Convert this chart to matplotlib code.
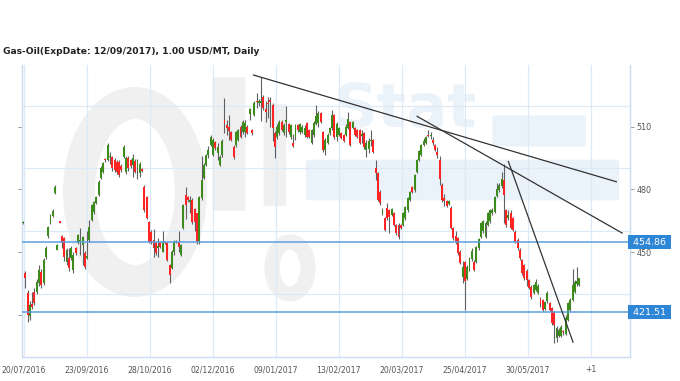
import matplotlib
matplotlib.use('Agg')
import matplotlib.pyplot as plt
from matplotlib.patches import Ellipse, FancyBboxPatch

opens = [464.0, 440.2, 430.7, 419.5, 425.5, 431.2, 431.2, 435.5, 440.7, 435.5,
         447.9, 458.0, 464.0, 467.4, 478.3, 451.2, 464.8, 457.9, 456.9, 445.5,
         447.3, 447.3, 441.7, 452.0, 454.5, 455.0, 453.6, 449.8, 447.5, 456.0,
         465.5, 469.3, 473.5, 477.4, 485.5, 488.4, 494.5, 494.0,
         495.5, 495.5, 494.0, 493.0, 493.0, 491.0, 495.5, 488.4, 495.0, 494.0,
         491.5, 493.5, 490.0, 488.0, 489.5, 481.2, 476.4, 464.5, 459.8, 456.0,
         454.5, 452.0, 455.0, 450.0, 455.0, 454.5, 444.0, 442.6, 450.0, 455.0,
         455.0, 448.8, 461.7,
         477.3, 476.5, 474.0, 475.0, 470.8, 468.7, 455.0, 476.0, 485.5, 491.6,
         496.5, 501.2, 496.4, 502.6, 497.4, 491.6, 496.5, 513.0, 510.7, 510.0,
         507.4, 500.3, 501.2, 503.6, 509.9, 507.4, 507.4, 509.9, 516.0, 508.3,
         515.5, 522.0, 521.0, 521.0, 524.0, 518.5, 521.0, 522.5, 520.3, 507.0,
         505.0, 507.0, 512.0, 507.0, 512.0, 511.0, 505.0, 502.0, 505.0, 510.5,
         507.4,
         507.4, 505.8, 511.7, 508.3, 502.0, 505.8, 511.0, 511.5, 516.4, 507.4,
         498.8, 502.0, 507.0, 509.3, 515.5, 505.0, 506.0, 507.0, 506.0, 506.0,
         509.5, 512.0, 509.5, 509.3, 508.3, 508.3, 505.5, 506.9, 499.0, 499.5,
         503.0, 503.6, 490.0, 487.9, 478.9, 468.5, 466.4, 471.2, 470.2, 468.0,
         468.7, 463.1, 463.1,
         463.0, 463.1, 466.4, 470.2, 475.0, 481.2, 479.8, 488.4, 494.0, 496.4,
         501.0, 502.1, 506.0, 505.5, 503.5, 501.2, 498.0, 494.0, 482.2, 476.0,
         474.5, 473.0, 471.2, 461.7, 458.0, 456.9, 450.2, 438.3, 445.5, 437.5,
         441.7, 447.0, 445.5, 445.5, 452.0, 457.4, 460.0, 457.4, 463.1, 465.0,
         469.0, 469.3, 477.0, 479.8, 481.5,
         484.5, 470.0, 466.4, 468.8, 466.4, 459.8, 456.0, 451.2, 446.4, 444.0,
         441.0, 436.9, 433.6, 430.7, 432.0, 430.7, 428.0, 427.4, 423.0, 427.0,
         425.9, 423.6, 421.5, 409.2, 410.0, 410.0, 412.6, 411.0, 417.9, 422.6,
         427.4, 431.2, 435.0, 434.5]
closes = [464.6, 437.8, 420.2, 424.9, 424.0, 426.0, 436.0, 441.7, 434.5, 446.4,
          452.0, 462.0, 467.8, 469.8, 481.2, 453.6, 464.2, 454.5, 447.9, 451.2,
          442.5, 452.0, 448.8, 449.8, 458.3, 456.0, 457.4, 443.1, 448.5, 462.0,
          472.6, 474.0, 476.4, 483.5, 490.2, 492.6, 494.1, 501.2,
          495.6, 490.0, 489.3, 488.4, 487.0, 489.3, 500.0, 495.0, 490.0, 491.0,
          495.0, 488.5, 493.5, 492.0, 489.0, 470.2, 466.4, 455.0, 455.0, 452.0,
          449.8, 453.0, 452.5, 455.0, 454.5, 446.4, 439.3, 450.2, 455.0, 455.5,
          452.5, 453.6, 472.6,
          472.6, 475.0, 475.0, 464.5, 464.5, 455.5, 476.4, 484.5, 491.6, 496.4,
          499.0, 505.0, 503.6, 499.7, 500.3, 495.5, 503.0, 511.5, 509.3, 508.0,
          503.6, 495.5, 507.4, 508.3, 505.0, 512.2, 511.5, 507.0, 518.5, 507.0,
          521.2, 521.5, 522.0, 522.0, 518.8, 517.0, 520.5, 521.5, 509.3, 500.0,
          510.0, 512.0, 508.5, 510.5, 513.0, 507.4, 510.5, 500.7, 510.5, 508.3,
          511.0,
          509.9, 509.5, 505.0, 505.0, 508.3, 511.7, 515.0, 516.5, 512.2, 498.8,
          503.6, 506.0, 509.5, 515.5, 505.0, 511.0, 509.5, 504.5, 503.0, 510.0,
          513.5, 501.0, 512.0, 506.0, 505.0, 502.1, 506.5, 500.3, 502.0, 503.0,
          503.6, 497.9, 487.9, 475.0, 473.6, 470.5, 460.7, 466.4, 467.0, 470.5,
          463.1, 459.3, 457.4,
          461.5, 468.7, 471.6, 476.0, 478.9, 478.9, 486.9, 494.1, 498.5, 501.2,
          503.0, 505.0, 505.5, 506.0, 502.0, 499.0, 496.4, 485.0, 475.0, 474.5,
          472.0, 474.5, 461.7, 457.0, 455.5, 449.8, 445.0, 443.0, 436.5, 443.0,
          447.0, 450.5, 441.7, 452.6, 456.5, 464.0, 465.0, 464.0, 468.8, 470.0,
          470.0, 476.4, 480.0, 482.2, 485.0,
          477.4, 463.0, 468.0, 461.7, 460.7, 455.0, 452.0, 447.4, 440.2, 437.8,
          437.0, 433.1, 428.8, 434.5, 436.0, 434.0, 425.5, 422.6, 426.5, 430.5,
          422.6, 416.4, 415.5, 414.0, 413.1, 414.5, 412.1, 419.0, 426.0, 427.5,
          434.5, 436.0, 436.5, 437.8]
highs = [465.0, 441.0, 432.0, 427.0, 431.0, 433.0, 437.5, 444.0, 442.0, 447.5,
         453.0, 462.5, 468.5, 470.5, 482.0, 454.0, 465.0, 458.5, 457.5, 452.0,
         452.0, 453.0, 450.0, 452.5, 459.0, 461.5, 458.0, 450.5, 460.0, 465.5,
         473.0, 474.5, 477.0, 484.5, 491.0, 493.0, 495.0, 502.3,
         498.0, 496.0, 495.0, 494.0, 494.0, 492.0, 501.0, 496.0, 496.0, 494.5,
         497.0, 494.5, 494.5, 493.0, 490.0, 482.0, 477.0, 465.0, 460.5, 461.0,
         455.0, 457.0, 455.5, 460.0, 455.0, 455.0, 444.5, 451.0, 456.0, 456.0,
         460.0, 454.0, 473.0,
         481.0, 477.0, 477.0, 476.0, 471.0, 469.0, 477.0, 496.0, 492.5, 497.0,
         500.5, 506.0, 504.5, 503.0, 502.0, 496.5, 504.0, 523.5, 513.0, 515.5,
         508.0, 501.0, 508.0, 509.0, 510.5, 513.0, 513.0, 510.5, 519.0, 509.0,
         522.0, 526.0, 523.0, 533.5, 525.0, 522.0, 524.0, 524.0, 521.0, 508.0,
         511.0, 513.0, 513.0, 511.5, 520.0, 511.5, 511.0, 506.5, 511.0, 511.0,
         511.5,
         510.5, 510.5, 512.0, 509.0, 509.0, 512.5, 520.3, 517.5, 517.0, 508.0,
         504.5, 507.0, 510.0, 518.0, 516.0, 512.0, 510.0, 507.5, 506.5, 511.0,
         517.0, 512.5, 512.5, 510.0, 509.0, 509.0, 508.5, 507.5, 503.5, 504.5,
         508.3, 504.0, 494.0, 488.5, 479.8, 471.0, 467.0, 473.5, 470.8, 471.0,
         469.5, 463.5, 464.0,
         463.5, 469.5, 472.0, 476.5, 479.5, 481.5, 487.5, 494.5, 499.0, 501.5,
         504.5, 505.5, 508.3, 507.5, 505.0, 501.5, 500.0, 496.0, 483.0, 478.0,
         475.0, 475.0, 472.0, 462.0, 460.0, 457.5, 451.0, 446.0, 446.0, 444.0,
         448.0, 452.0, 446.5, 453.0, 457.0, 464.5, 465.5, 465.0, 469.5, 470.5,
         471.0, 477.0, 483.0, 483.0, 488.3,
         492.0, 470.5, 470.0, 470.0, 467.0, 460.5, 457.0, 452.0, 447.0, 444.5,
         442.0, 437.5, 434.5, 435.0, 437.5, 435.0, 429.0, 428.0, 427.0, 431.5,
         426.5, 424.0, 422.0, 415.0, 414.0, 415.5, 413.0, 420.0, 426.5, 428.5,
         442.0, 437.0, 443.3, 438.0]
lows = [463.6, 433.0, 417.0, 418.0, 423.0, 425.0, 430.0, 434.0, 433.0, 434.5,
        447.0, 457.0, 463.5, 467.0, 478.0, 451.0, 464.0, 452.0, 446.0, 444.0,
        441.0, 446.5, 440.0, 449.0, 454.0, 449.0, 444.0, 442.0, 447.0, 455.0,
        465.0, 468.5, 473.0, 477.0, 485.0, 488.0, 493.0, 493.5,
        492.0, 489.0, 488.5, 487.5, 486.0, 488.5, 495.0, 487.5, 489.0, 490.0,
        486.0, 488.0, 485.0, 486.0, 488.5, 469.5, 466.0, 454.5, 454.0, 448.0,
        449.0, 448.0, 452.0, 450.0, 454.0, 446.0, 435.4, 442.0, 449.0, 454.5,
        450.0, 448.5, 461.0,
        466.0, 474.0, 469.0, 463.5, 460.0, 454.0, 454.0, 475.0, 485.0, 491.0,
        495.0, 500.5, 496.0, 499.0, 494.0, 491.0, 495.5, 506.8, 506.0, 503.6,
        503.0, 494.5, 500.0, 503.0, 504.5, 506.5, 505.0, 506.5, 513.0, 506.0,
        515.0, 519.0, 520.0, 512.5, 518.0, 512.0, 514.0, 510.0, 503.0, 494.8,
        504.0, 506.0, 508.0, 506.0, 505.0, 506.5, 504.0, 500.0, 503.5, 507.5,
        506.5,
        507.0, 505.0, 504.5, 504.5, 501.5, 505.0, 510.5, 510.0, 511.5, 498.0,
        496.5, 501.5, 506.0, 508.5, 504.0, 503.0, 505.5, 504.0, 502.5, 505.5,
        509.0, 500.5, 509.0, 505.5, 504.5, 501.5, 502.0, 499.5, 495.5, 497.5,
        500.5, 497.5, 484.5, 474.5, 472.5, 468.0, 460.0, 465.5, 459.5, 467.5,
        462.5, 458.5, 456.5,
        461.0, 462.5, 465.5, 469.5, 474.5, 478.5, 479.0, 488.0, 493.5, 496.0,
        500.5, 501.5, 505.0, 504.0, 501.0, 498.5, 495.0, 482.0, 474.0, 472.0,
        471.5, 472.5, 461.0, 456.0, 454.0, 449.0, 444.5, 435.5, 422.6, 437.0,
        441.0, 446.0, 441.0, 445.0, 451.0, 457.0, 459.5, 457.0, 462.5, 464.0,
        468.0, 469.0, 476.5, 479.0, 480.5,
        464.0, 462.0, 465.5, 461.0, 460.0, 454.5, 451.0, 446.5, 439.5, 437.0,
        434.0, 432.5, 428.0, 430.0, 431.5, 430.0, 424.0, 422.0, 422.5, 426.0,
        422.0, 415.5, 407.0, 407.5, 409.5, 409.5, 410.5, 410.5, 417.5, 422.0,
        427.0, 430.5, 434.0, 434.0]

date_labels = ['20/07/2016', '23/09/2016', '28/10/2016', '02/12/2016', '09/01/2017',
               '13/02/2017', '20/03/2017', '25/04/2017', '30/05/2017', '+1']
date_pos = [0.4, 27.9, 55.4, 82.9, 110.4, 137.9, 165.4, 192.9, 220.4, 247.9]
price_ticks = [420, 450, 480, 510]
price_ticklabels = ['', '450', '480', '510']
grid_levels = [430, 460, 490, 520]
level_values = [454.86, 421.51]
trend_x = [(100.4, 259.4), (171.9, 261.9), (211.9, 240.3)]
trend_y = [(534.6, 483.6), (515.0, 459.1), (493.6, 407.0)]
title = 'Gas-Oil(ExpDate: 12/09/2017), 1.00 USD/MT, Daily'

W, H = 680, 381
fig = plt.figure(figsize=(W / 100, H / 100), dpi=100)
ax = fig.add_axes([22 / W, 1 - 357 / H, 608 / W, 292 / H])
ax.set_facecolor('white')

def fp(px, py):
    return (px / W, 1 - py / H)

# watermark (faint logo)
wm_gray = '#f0f0f0'
wm_blue = '#eaf2fa'
ax.add_patch(Ellipse(fp(135, 192), 112 / W, 178 / H, fill=False, ec=wm_gray, lw=23,
                     transform=fig.transFigure, zorder=0.1, clip_on=False))
ax.add_patch(FancyBboxPatch(fp(214, 210), 30 / W, 132 / H, boxstyle='round,pad=0.002',
                            fc=wm_gray, ec='none', transform=fig.transFigure, zorder=0.1))
ax.add_patch(FancyBboxPatch(fp(265, 205), 20 / W, 100 / H, boxstyle='round,pad=0.002',
                            fc=wm_gray, ec='none', transform=fig.transFigure, zorder=0.1))
ax.add_patch(Ellipse(fp(290, 268), 36 / W, 52 / H, fill=False, ec=wm_gray, lw=11,
                     transform=fig.transFigure, zorder=0.1))
ax.text(*fp(405, 110), 'Stat', transform=fig.transFigure, fontsize=44, fontweight='bold',
        color=wm_blue, ha='center', va='center', zorder=0.1)
ax.add_patch(FancyBboxPatch(fp(495, 145), 88 / W, 28 / H, boxstyle='round,pad=0.004',
                            fc=wm_blue, ec='none', transform=fig.transFigure, zorder=0.1))
ax.add_patch(FancyBboxPatch(fp(310, 198), 305 / W, 36 / H, boxstyle='round,pad=0.006',
                            fc=wm_blue, ec='none', transform=fig.transFigure, zorder=0.1))

# grid
grid_c = '#dde9f5'
for g in grid_levels:
    ax.axhline(g, color=grid_c, lw=0.9, zorder=0.5)
for p in date_pos:
    ax.axvline(p, color=grid_c, lw=0.9, zorder=0.5)

# candles
up_c, dn_c, wick_c = '#3c8c1c', '#ff2424', '#606060'
for i, (o, c, h, l) in enumerate(zip(opens, closes, highs, lows)):
    ax.vlines(i, l, h, color=wick_c, lw=0.8, zorder=2)
    col = up_c if c >= o else dn_c
    bot = min(o, c)
    ht = max(abs(c - o), 0.6)
    ax.bar(i, ht, bottom=bot, width=0.85, color=col, edgecolor='none', zorder=3)

# horizontal levels
for v in level_values:
    ax.axhline(v, color='#5b9fe0', lw=1.1, zorder=4)
    ax.text(1.0, v, ' %.2f ' % v, transform=ax.get_yaxis_transform(), ha='left', va='center',
            fontsize=6.8, color='white', zorder=6, clip_on=False,
            bbox=dict(boxstyle='square,pad=0.25', fc='#2e86d6', ec='none'))

# trend lines
for (x0, x1), (y0, y1) in zip(trend_x, trend_y):
    ax.plot([x0, x1], [y0, y1], color='#333333', lw=0.9, zorder=5, solid_capstyle='butt')

ax.set_xlim(-0.44, 265.1)
ax.set_ylim(400.2, 539.3)

ax.yaxis.tick_right()
ax.set_yticks(price_ticks)
ax.set_yticklabels(price_ticklabels)
ax.tick_params(axis='y', which='both', right=True, left=True, length=3, width=0.6,
               color='#888888', labelsize=5.8, labelcolor='#555555', pad=1.5)
ax.set_xticks(date_pos)
ax.set_xticklabels(date_labels)
ax.tick_params(axis='x', length=0, labelsize=5.6, labelcolor='#555555', pad=6)

for s in ['left', 'right', 'bottom']:
    ax.spines[s].set_color('#c9ddf0')
    ax.spines[s].set_linewidth(1.0)
ax.spines['top'].set_visible(False)

fig.text(3 / W, 1 - 52 / H, title, fontsize=6.6, fontweight='bold', color='#222222',
         ha='left', va='center')

fig.savefig('out.png', dpi=100)
